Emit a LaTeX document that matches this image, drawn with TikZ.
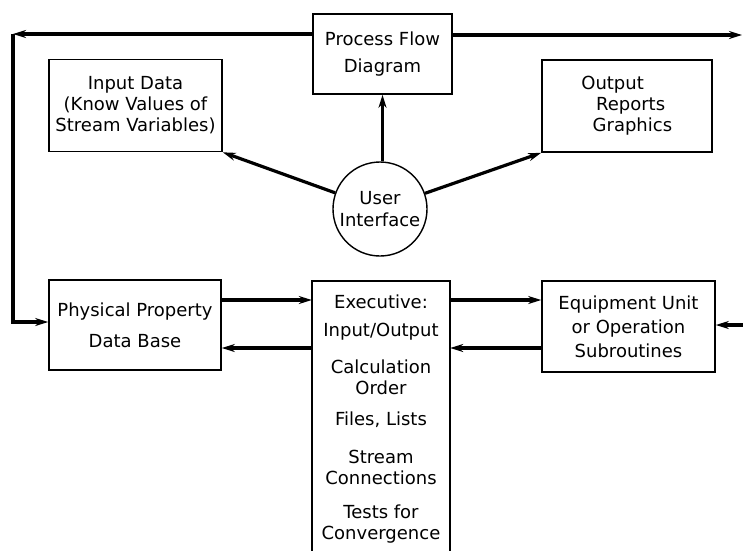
\documentclass[tikz,border=0pt]{standalone}
\usepackage{fontspec}
\setmainfont{DejaVu Sans}
\usetikzlibrary{arrows.meta}
\begin{document}
\begin{tikzpicture}[x=1pt,y=-1pt,
  box/.style={draw,line width=1.6pt,inner sep=0pt,align=center,font=\fontsize{18}{21}\selectfont},
  txt/.style={inner sep=0pt,align=center,font=\fontsize{18}{21}\selectfont},
  arr/.style={line width=3.2pt,-{Stealth[length=13pt,width=8pt]}}]
\useasboundingbox (0,0) rectangle (743,550);
\clip (0,0) rectangle (743,550);
% boxes
\node[box,minimum width=139pt,minimum height=80pt,font=\fontsize{18}{27}\selectfont] (pfd) at (382.5,54) {Process Flow\\Diagram};
\node[box,minimum width=173pt,minimum height=92pt] (inp) at (135.5,105.5) {Input Data\\(Know Values of\\Stream Variables)};
\node[box,minimum width=170pt,minimum height=92pt] (out) at (627,106) {Output\hspace*{1.6em}\\\hspace*{0.4em}Reports\\\hspace*{0.6em}Graphics};
\node[draw,circle,line width=1.4pt,minimum size=94pt,inner sep=0pt,align=center,font=\fontsize{18}{22}\selectfont] (ui) at (380,209) {User\\Interface};
\node[box,minimum width=172pt,minimum height=90pt,font=\fontsize{18}{31}\selectfont] (pp) at (135,325) {Physical Property\\Data Base};
\node[box,minimum width=173pt,minimum height=91pt,font=\fontsize{18}{24}\selectfont] (eq) at (628.5,326.5) {Equipment Unit\\or Operation\\Subroutines};
% executive box (open at the bottom)
\node[minimum width=138pt,minimum height=279pt,inner sep=0pt] (ex) at (381,420.5) {};
\draw[line width=1.6pt] (ex.south west) |- (ex.north east) -- (ex.south east);
\node[txt] (e1) at (381,302) {Executive:};
\node[txt] (e2) at (381,332) {Input/Output};
\node[txt] (e3) at (381,377.5) {Calculation\\Order};
\node[txt] (e4) at (381,420) {Files, Lists};
\node[txt] (e5) at (381,467) {Stream\\Connections};
\node[txt] (e6) at (381,524) {Tests for\\Convergence};
% level coordinates
\coordinate (tl) at (13,34);
\coordinate (bl) at (13,322);
\coordinate (tr) at (742,35);
\coordinate (rr) at (743,325);
\coordinate (r1) at (0,300);
\coordinate (r2) at (0,348);
% connectors
\draw[arr] (ui.north -| pfd.south) -- (pfd.south);
\draw[arr] (ui) -- (inp.south east);
\draw[arr] (ui) -- (out.south west);
\draw[arr] (pfd.west |- tl) -- (tl);
\draw[arr] (tl) -- (bl) -- (pp.west |- bl);
\draw[arr] (pfd.east |- tr) -- (tr);
\draw[arr] (rr) -- (eq.east |- rr);
\draw[arr] (pp.east |- r1) -- (ex.west |- r1);
\draw[arr] (ex.west |- r2) -- (pp.east |- r2);
\draw[arr] (ex.east |- r1) -- (eq.west |- r1);
\draw[arr] (eq.west |- r2) -- (ex.east |- r2);
\end{tikzpicture}
\end{document}
